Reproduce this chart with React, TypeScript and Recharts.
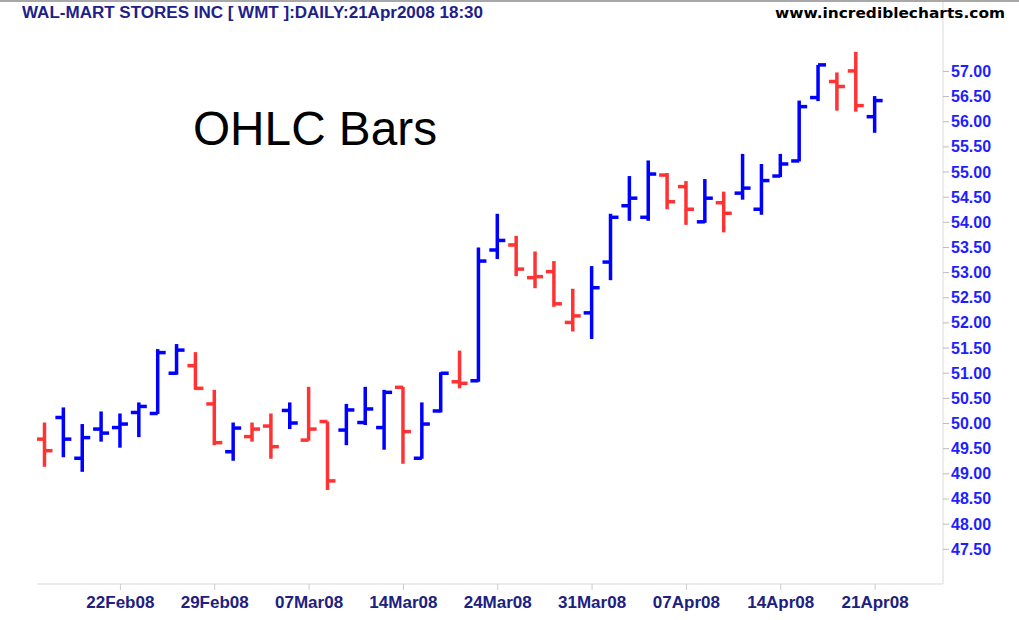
import React from "react";
import { ComposedChart, Bar, XAxis, YAxis } from "recharts";

// WMT daily, 15 Feb - 21 Apr 2008
const dates = [
	"15Feb08", "19Feb08", "20Feb08", "21Feb08", "22Feb08",
	"25Feb08", "26Feb08", "27Feb08", "28Feb08", "29Feb08",
	"03Mar08", "04Mar08", "05Mar08", "06Mar08", "07Mar08",
	"10Mar08", "11Mar08", "12Mar08", "13Mar08", "14Mar08",
	"17Mar08", "18Mar08", "19Mar08", "20Mar08", "24Mar08",
	"25Mar08", "26Mar08", "27Mar08", "28Mar08", "31Mar08",
	"01Apr08", "02Apr08", "03Apr08", "04Apr08", "07Apr08",
	"08Apr08", "09Apr08", "10Apr08", "11Apr08", "14Apr08",
	"15Apr08", "16Apr08", "17Apr08", "18Apr08", "21Apr08",
];
const opens = [
	49.69, 50.12, 49.31, 49.89, 49.92, 50.22, 50.2, 51.0, 51.15, 50.39,
	49.44, 49.74, 49.95, 50.26, 49.67, 50.04, 49.87, 50.02, 49.92, 50.72,
	49.31, 50.25, 50.83, 50.85, 53.45, 53.55, 52.9, 53.02, 52.01, 52.2,
	53.21, 54.33, 54.1, 54.94, 54.71, 54.01, 54.39, 54.58, 54.26, 54.92,
	55.22, 56.48, 56.8, 57.01, 56.1,
];
const highs = [
	50.02, 50.32, 49.99, 50.24, 50.2, 50.42, 51.48, 51.58, 51.42, 50.67,
	50.02, 50.02, 50.2, 50.42, 50.73, 50.04, 50.39, 50.73, 50.67, 50.73,
	50.42, 51.02, 51.45, 53.5, 54.17, 53.73, 53.42, 53.23, 52.68, 53.13,
	54.17, 54.92, 55.23, 54.98, 54.82, 54.86, 54.61, 55.36, 55.16, 55.36,
	56.42, 57.13, 56.98, 57.39, 56.51,
];
const lows = [
	49.14, 49.33, 49.04, 49.64, 49.52, 49.73, 50.19, 50.97, 50.67, 49.57,
	49.26, 49.64, 49.3, 49.89, 49.66, 48.68, 49.57, 49.97, 49.48, 49.2,
	49.3, 50.22, 50.7, 50.83, 53.27, 52.93, 52.69, 52.32, 51.83, 51.68,
	52.85, 54.03, 54.03, 54.26, 53.95, 53.99, 53.8, 54.45, 54.15, 54.9,
	55.21, 56.41, 56.22, 56.2, 55.78,
];
const closes = [
	49.46, 49.69, 49.72, 49.81, 49.99, 50.34, 51.41, 51.46, 50.7, 49.62,
	49.91, 49.89, 49.54, 50.01, 49.89, 48.86, 50.27, 50.29, 50.62, 49.84,
	49.99, 51.0, 50.8, 53.23, 53.64, 53.07, 52.92, 52.38, 52.14, 52.7,
	54.1, 54.48, 54.96, 54.41, 54.26, 54.48, 54.18, 54.68, 54.83, 55.16,
	56.3, 57.13, 56.7, 56.32, 56.42,
];
const priorClose = 49.9; // close of 14Feb08, colours the first bar
const priceTicks = [47.5, 48, 48.5, 49, 49.5, 50, 50.5, 51, 51.5, 52, 52.5, 53, 53.5, 54, 54.5, 55, 55.5, 56, 56.5, 57];
const dateTickIdx = [4, 9, 14, 19, 24, 29, 34, 39, 44];

const UP = "#0000ff";
const DOWN = "#ff3333";
const FONT = "'Liberation Sans', Arial, sans-serif";

const data = dates.map((d, i) => ({
	idx: i,
	date: d,
	open: opens[i],
	high: highs[i],
	low: lows[i],
	close: closes[i],
	range: [lows[i], highs[i]],
	up: closes[i] >= (i === 0 ? priorClose : closes[i - 1]),
}));

function OhlcShape(props: any) {
	const { x, y, width, height, payload } = props;
	if (height == null || !payload) return null;
	const cx = x + width / 2;
	const top = Math.min(y, y + height);
	const bottom = Math.max(y, y + height);
	const span = payload.high - payload.low || 1;
	const yAt = (v: number) => top + ((payload.high - v) / span) * (bottom - top);
	const color = payload.up ? UP : DOWN;
	return (
		<g>
			<line x1={cx} x2={cx} y1={top} y2={bottom} stroke={color} strokeWidth={3.5} />
			<line x1={cx - 8} x2={cx} y1={yAt(payload.open)} y2={yAt(payload.open)} stroke={color} strokeWidth={3.5} />
			<line x1={cx} x2={cx + 8} y1={yAt(payload.close)} y2={yAt(payload.close)} stroke={color} strokeWidth={3.5} />
		</g>
	);
}

function PriceTick(props: any) {
	const { x, y, payload } = props;
	return (
		<text x={x} y={y} dy={5.5} textAnchor='start' fill='#1e1eff' fontSize={16} fontWeight='bold' fontFamily={FONT}>
			{payload.value.toFixed(2)}
		</text>
	);
}

function DateTick(props: any) {
	const { x, y, payload } = props;
	return (
		<text x={x} y={y} dy={16} textAnchor='middle' fill='#202080' fontSize={17} fontWeight='bold' fontFamily={FONT}>
			{dates[payload.value]}
		</text>
	);
}

export default function App() {
	return (
		<div style={{ position: "absolute", left: 0, top: 0, width: 1019, height: 620, background: "#fff" }}>
			<ComposedChart
				width={1019}
				height={620}
				data={data}
				margin={{ top: 2, right: 0, bottom: 6, left: 37 }}
			>
				<XAxis
					dataKey='idx'
					type='number'
					domain={[-0.42, 47.6]}
					ticks={dateTickIdx}
					interval={0}
					allowDataOverflow
					height={30}
					stroke='#d9d9d9'
					tickLine={{ stroke: "#cccccc" }}
					tickSize={6}
					tick={<DateTick />}
				/>
				<YAxis
					yAxisId='frame'
					orientation='left'
					width={0}
					domain={[46.81, 58.38]}
					type='number'
					tick={false}
					tickLine={false}
					stroke='#d9d9d9'
				/>
				<YAxis
					yAxisId='price'
					orientation='right'
					width={76}
					type='number'
					domain={[46.81, 58.38]}
					ticks={priceTicks}
					interval={0}
					allowDataOverflow
					stroke='#d9d9d9'
					tickLine={{ stroke: "#bbbbbb" }}
					tickSize={6}
					tick={<PriceTick />}
				/>
				<Bar
					yAxisId='price'
					dataKey='range'
					barSize={10}
					shape={<OhlcShape />}
					isAnimationActive={false}
				/>
			</ComposedChart>
			<svg width={1019} height={620} style={{ position: "absolute", left: 0, top: 0, pointerEvents: "none" }}>
				<line x1={0} x2={1019} y1={1} y2={1} stroke='#a8a8a8' strokeWidth={2} />
				<text x={22} y={18} fill='#20208a' fontSize={16} fontWeight='bold' fontFamily={FONT} textLength={461} lengthAdjust='spacingAndGlyphs'>
					WAL-MART STORES INC [ WMT ]:DAILY:21Apr2008 18:30
				</text>
				<text x={775} y={18} fill='#000' fontSize={14} fontWeight='bold' fontFamily="'DejaVu Sans', Verdana, sans-serif" textLength={230} lengthAdjust='spacingAndGlyphs'>
					www.incrediblecharts.com
				</text>
				<text x={193} y={145} fill='#000' fontSize={48} fontFamily={FONT} textLength={244} lengthAdjust='spacingAndGlyphs'>
					OHLC Bars
				</text>
			</svg>
		</div>
	);
}
